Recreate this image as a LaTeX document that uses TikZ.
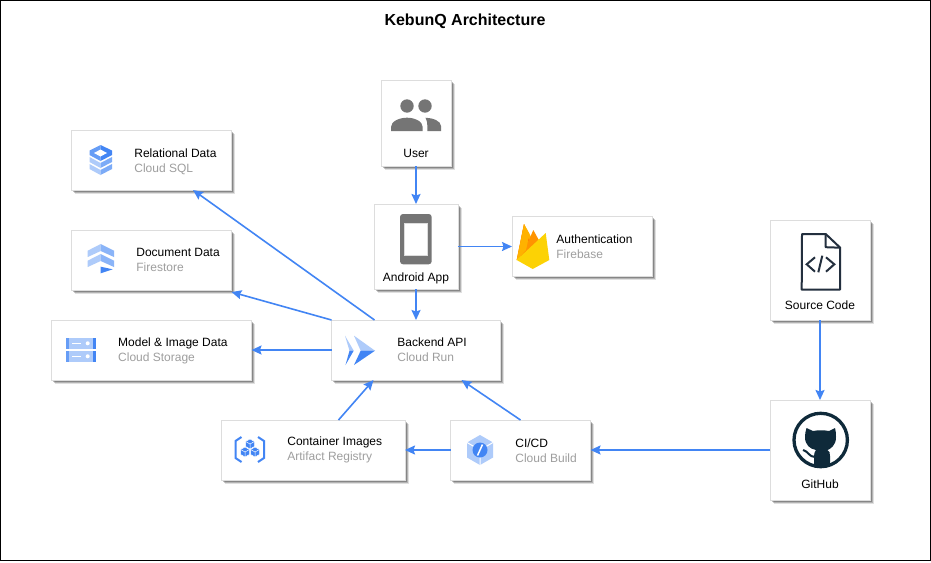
\documentclass[tikz,border=0pt]{standalone}
\usepackage{fontspec}
\setmainfont{Liberation Sans}
\usetikzlibrary{arrows.meta,shadows}
\definecolor{gblue}{HTML}{4285F4}
\definecolor{gmid}{HTML}{669DF6}
\definecolor{glight}{HTML}{AECBFA}
\definecolor{subgray}{HTML}{9E9E9E}
\definecolor{edgegray}{HTML}{DDDDDD}
\definecolor{icongray}{HTML}{757575}
\definecolor{filenavy}{HTML}{232F3E}
\definecolor{octonavy}{HTML}{0F2A3A}

\begin{document}
\begin{tikzpicture}[x=1pt,y=-1pt,>={Stealth[length=10pt,width=9pt,inset=1.5pt]},
  card/.style={draw=edgegray,line width=1pt,fill=white,inner sep=0pt,outer sep=0pt,
    general shadow={shadow xshift=3.5pt,shadow yshift=-3.5pt,opacity=.12,fill=black},
    general shadow={shadow xshift=2.5pt,shadow yshift=-2.5pt,opacity=.2,fill=black},
    general shadow={shadow xshift=1.5pt,shadow yshift=-1.5pt,opacity=.25,fill=black}},
  cardlabel/.style={anchor=west,align=left,inner sep=0pt,font=\fontsize{12}{15}\selectfont},
  iconlabel/.style={inner sep=0pt,font=\fontsize{12}{15}\selectfont},
  link/.style={->,draw=gblue,line width=1.6pt}]
  \useasboundingbox (0,0) rectangle (931,562);
  \draw[fill=white,line width=1pt] (0.5,0.5) rectangle (930.5,560.5);
  \node[inner sep=0pt,font=\bfseries\fontsize{16}{18}\selectfont] (title) at (465,21) {KebunQ Architecture};

  \node[card,minimum width=160pt,minimum height=60pt] (sql) at (151.5,160) {};
  \node[card,minimum width=160pt,minimum height=60pt] (firestore) at (151.5,260) {};
  \node[card,minimum width=200pt,minimum height=60pt] (storage) at (151.5,350) {};
  \node[card,minimum width=70pt,minimum height=86pt] (user) at (416,123) {};
  \node[card,minimum width=84pt,minimum height=85pt] (android) at (416,246.5) {};
  \node[card,minimum width=140pt,minimum height=60pt] (firebase) at (582,246.5) {};
  \node[card,minimum width=169pt,minimum height=60pt] (backend) at (416,350) {};
  \node[card,minimum width=184pt,minimum height=60pt] (registry) at (313,450) {};
  \node[card,minimum width=140pt,minimum height=60pt] (build) at (520.5,450) {};
  \node[card,minimum width=100pt,minimum height=100pt] (source) at (820,270) {};
  \node[card,minimum width=100pt,minimum height=100pt] (github) at (820,450) {};

  \node[cardlabel] (sqltext) at (134.2,161.5) {Relational Data\\\textcolor{subgray}{Cloud SQL}};
  \node[cardlabel] (firestoretext) at (136.2,260) {Document Data\\\textcolor{subgray}{Firestore}};
  \node[cardlabel] (storagetext) at (118,350.5) {Model \& Image Data\\\textcolor{subgray}{Cloud Storage}};
  \node[cardlabel] (firebasetext) at (556.2,247) {Authentication\\\textcolor{subgray}{Firebase}};
  \node[cardlabel] (backendtext) at (397.2,350) {Backend API\\\textcolor{subgray}{Cloud Run}};
  \node[cardlabel] (registrytext) at (287.2,450) {Container Images\\\textcolor{subgray}{Artifact Registry}};
  \node[cardlabel] (buildtext) at (515.2,451) {CI/CD\\\textcolor{subgray}{Cloud Build}};
  \node[iconlabel] (usertext) at (416,153.5) {User};
  \node[iconlabel] (androidtext) at (416,278.5) {Android App};
  \node[iconlabel] (sourcetext) at (820,305) {Source Code};
  \node[iconlabel] (githubtext) at (820,484) {GitHub};

  % Cloud SQL
  \fill[gmid] (100.5,145) -- (89.5,150.5) -- (89.5,155) -- (100.5,161) -- cycle;
  \fill[gblue] (100.5,145) -- (112,150.5) -- (112,155) -- (100.5,161) -- cycle;
  \fill[white] (100.5,149.5) -- (107,153) -- (100.5,156.5) -- (94,153) -- cycle;
  \foreach \dy in {0,7} {
    \fill[glight] (89.5,157+\dy) -- (100.5,163+\dy) -- (100.5,168+\dy) -- (89.5,162+\dy) -- cycle;
    \fill[gmid!70!glight] (112,157+\dy) -- (100.5,163+\dy) -- (100.5,168+\dy) -- (112,162+\dy) -- cycle;
  }

  % Firestore
  \foreach \dy in {0,10} {
    \fill[glight] (100.7,244+\dy) -- (87.7,250.7+\dy) -- (87.7,257+\dy) -- (100.7,251+\dy) -- cycle;
    \fill[gmid!50!glight] (100.7,244+\dy) -- (114,250.7+\dy) -- (114,257+\dy) -- (100.7,251+\dy) -- cycle;
  }
  \fill[gblue] (100.7,266.7) -- (112.7,269.3) -- (100.7,273.3) -- cycle;

  % Cloud Storage
  \foreach \dy in {338,351} {
    \fill[glight] (65.7,\dy) rectangle (96,\dy+10.7);
    \fill[gmid] (65.7,\dy) rectangle (69,\dy+10.7);
    \fill[gblue] (92.7,\dy) rectangle (96,\dy+10.7);
    \fill[white] (71.7,\dy+4.6) rectangle (80.7,\dy+6.1);
    \fill[white] (87.7,\dy+5.3) circle (2);
  }

  % Cloud Run
  \fill[glight] (345,335.7) -- (353.7,350.7) -- (349.5,350.7) -- cycle;
  \fill[gblue] (345.5,365) -- (353.7,350.7) -- (349.5,350.7) -- cycle;
  \fill[glight] (354,335.7) -- (375,350.7) -- (360.7,350.7) -- cycle;
  \fill[gblue] (354,365) -- (375,350.7) -- (360.7,350.7) -- cycle;

  % Artifact Registry
  \draw[gblue,line width=2pt] (241.5,437) -- (235.5,441) -- (235.5,458) -- (241.5,462);
  \draw[gblue,line width=2pt] (258,437) -- (264,441) -- (264,458) -- (258,462);
  \foreach \cx/\cy in {250/444,245/452,255/452} {
    \fill[gblue,draw=white,line width=.5pt] (\cx,\cy-5) -- (\cx+4.5,\cy-2.5) -- (\cx+4.5,\cy+2.5)
      -- (\cx,\cy+5) -- (\cx-4.5,\cy+2.5) -- (\cx-4.5,\cy-2.5) -- cycle;
    \draw[white,line width=.5pt] (\cx-4.5,\cy-2.5) -- (\cx,\cy) -- (\cx+4.5,\cy-2.5) (\cx,\cy) -- (\cx,\cy+5);
  }

  % Cloud Build
  \fill[glight] (480,435) -- (493,442.5) -- (493,457.5) -- (480,465) -- (467,457.5) -- (467,442.5) -- cycle;
  \draw[white,line width=1pt] (467,442.5) -- (480,450) -- (493,442.5) (480,450) -- (480,465);
  \fill[gblue] (480,450) circle (7.5);
  \draw[white,line width=1.5pt] (482.5,444.5) -- (477.5,455.5);

  % Firebase
  \fill[orange!60!yellow] (516.7,260) -- (524,224) -- (536,246) -- cycle;
  \fill[orange!85!yellow] (533.3,230) -- (541,244) -- (520,258) -- (529,240) -- cycle;
  \fill[orange!90!red] (516.7,260) -- (524,224) -- (529,240) -- cycle;
  \fill[orange!60!yellow] (516.7,260) -- (524,224) -- (529.5,234) -- (526,250) -- cycle;
  \fill[yellow!70!orange] (516.7,260) -- (545.7,233) -- (549.3,260) -- (532.7,269) -- cycle;

  % User
  \fill[icongray] (407,106) circle (6.7) (425,106) circle (6.7);
  \fill[icongray] (391,131) -- (391,127) .. controls (391,121) and (400,117.7) .. (407,117.7)
    .. controls (414,117.7) and (422.7,121) .. (422.7,127) -- (422.7,131) -- cycle;
  \fill[icongray] (427.3,131) -- (441,131) -- (441,126) .. controls (441,121) and (433,118) .. (425.5,117.7)
    .. controls (427,120) and (427.3,123) .. (427.3,127) -- cycle;

  % Android
  \fill[icongray,rounded corners=3pt] (400,214) rectangle (431.7,264.3);
  \fill[white,draw=edgegray,line width=.5pt] (404.3,223.3) rectangle (427.7,255);

  % Source code file
  \draw[filenavy,line width=2pt,line join=round] (825.7,234) -- (802,234) -- (801.7,289.5) -- (840.2,289.5)
    -- (840.2,247.7) -- cycle;
  \draw[filenavy,line width=2pt,line join=round] (825.7,234) -- (825.7,247.2) -- (840.2,247.7);
  \draw[filenavy,line width=2pt] (815,257.3) -- (806.7,264.3) -- (815,271.7);
  \draw[filenavy,line width=2pt] (826,257.3) -- (834.3,264.3) -- (826,271.7);
  \draw[filenavy,line width=2pt] (822.3,255.7) -- (818.3,272.3);

  % GitHub
  \begin{scope}
    \clip (820.7,440) circle (27);
    \fill[octonavy] (806.5,428) -- (813,431) .. controls (818,430) and (824,430) .. (829,431)
      -- (835,428) .. controls (836,431) and (836,434) .. (836,437)
      .. controls (836,446) and (830,449) .. (827.5,450)
      .. controls (829.5,451) and (830,453) .. (830,456) -- (830,470) -- (814,470) -- (814,456)
      .. controls (814,453) and (815,451) .. (816,450)
      .. controls (810,449) and (805,445) .. (805,437)
      .. controls (805,434) and (805.5,431) .. (806.5,428) -- cycle;
    \draw[octonavy,line width=2pt] (803,450) .. controls (808,451) and (809,457) .. (815,457);
  \end{scope}
  \draw[octonavy,line width=3.3pt] (820.7,440) circle (26.7);

  \draw[link] ([xshift=43pt]backend.north west) -- ([xshift=121.5pt]sql.south west);
  \draw[link] (backend.north west) -- ([yshift=-2pt]firestore.south east);
  \draw[link] (backend.west) -- (storage.east);
  \draw[link] (user.south) -- (android.north);
  \draw[link] (android.east) -- (firebase.west);
  \draw[link] (android.south) -- (backend.north);
  \draw[link] ([xshift=117.5pt]registry.north west) -- ([xshift=42pt]backend.south west);
  \draw[link] ([xshift=70pt]build.north west) -- ([xshift=130pt]backend.south west);
  \draw[link] (build.west) -- (registry.east);
  \draw[link] (github.west) -- (build.east);
  \draw[link] (source.south) -- (github.north);
\end{tikzpicture}
\end{document}
